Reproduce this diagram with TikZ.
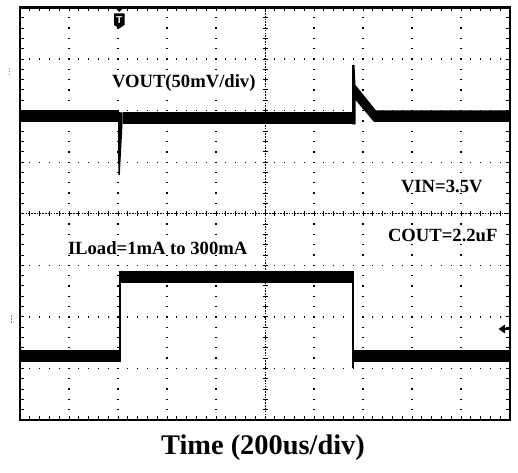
\documentclass[tikz,border=0pt]{standalone}
\usepackage{fontspec}
\setmainfont{Liberation Serif}
\usetikzlibrary{arrows,shapes}

\begin{document}
\begin{tikzpicture}[x=1bp, y=-1bp,
    every node/.style={inner sep=0pt, outer sep=0pt},
    label/.style={anchor=base west, fill=white, font=\bfseries\fontsize{18.7}{20}\selectfont},
    hdots/.style={line width=1.3bp, dash pattern=on 1.3bp off 8.5bp, dash phase=0.65bp},
    vdots/.style={line width=1.3bp, dash pattern=on 1.3bp off 9.0125bp, dash phase=0.65bp},
    hticks/.style={line width=#1, dash pattern=on 1bp off 8.8bp, dash phase=0.5bp},
    vticks/.style={line width=#1, dash pattern=on 1bp off 9.3125bp, dash phase=0.5bp},
    axis/.style={line width=0.8bp, dash pattern=on 1.6bp off 1.2bp}]
    \colorlet{trc}{black}
    \useasboundingbox (0,0) rectangle (518,473);
    % horizontal grid lines
    \draw[hdots] (20,59.06) -- (510,59.06);
    \draw[hdots] (20,110.63) -- (510,110.63);
    \draw[hdots] (20,162.19) -- (510,162.19);
    \draw[hdots] (20,265.31) -- (510,265.31);
    \draw[hdots] (20,316.88) -- (510,316.88);
    \draw[hdots] (20,368.44) -- (510,368.44);
    % vertical grid lines
    \draw[vdots] (69,7.5) -- (69,420);
    \draw[vdots] (118,7.5) -- (118,420);
    \draw[vdots] (167,7.5) -- (167,420);
    \draw[vdots] (216,7.5) -- (216,420);
    \draw[vdots] (314,7.5) -- (314,420);
    \draw[vdots] (363,7.5) -- (363,420);
    \draw[vdots] (412,7.5) -- (412,420);
    \draw[vdots] (461,7.5) -- (461,420);
    % center axes
    \draw[axis] (20,213.75) -- (510,213.75);
    \draw[hticks=5bp] (20,213.75) -- (510,213.75);
    \draw[axis] (265,7.5) -- (265,420);
    \draw[vticks=5bp] (265,7.5) -- (265,420);
    % border ticks
    \draw[hticks=4bp] (20,9.5) -- (510,9.5);
    \draw[hticks=4bp] (20,418) -- (510,418);
    \draw[vticks=4bp] (22,7.5) -- (22,420);
    \draw[vticks=4bp] (508,7.5) -- (508,420);
    % frame
    \draw[line width=2.2bp] (20,7.5) rectangle (510,420);
    % trigger marker
    \fill (115,7.5) -- (123.5,7.5) -- (119.25,12) -- cycle;
    \fill (114,13.5) -- (124.5,13.5) -- (124.5,25) -- (119.25,28.5) -- (114,25) -- cycle;
    \node[text=white, font=\sffamily\bfseries\fontsize{10}{10}\selectfont] (trig) at (119.25,20.5) {T};
    % channel markers
    \draw[gray, line width=1bp, dash pattern=on 1.5bp off 1.5bp] (9,68) -- (9,75);
    \draw[gray, line width=1bp, dash pattern=on 1.5bp off 1.5bp] (11,315) -- (11,323);
    % trigger level
    \fill (498.5,329) -- (505,324.5) -- (505,333.5) -- cycle;
    \draw[line width=2bp] (504,329) -- (510,329);
    % VOUT trace
    \fill[trc] (20,110.5) rectangle (118.5,122);
    \fill[trc] (118,112) -- (118.3,175) -- (119.8,175) -- (122.5,124.5) -- (122.5,112.5) -- cycle;
    \fill[trc] (122.5,112.5) rectangle (352,124.5);
    \fill[trc] (352,124.5) -- (352,65) -- (354.5,65) -- (355.5,85) -- (376,110.5) -- (510,110.5)
        -- (510,122) -- (374,122) -- (355.5,100) -- (355.5,124.5) -- cycle;
    % ILoad trace
    \fill[trc] (20,350) rectangle (121,361.7);
    \fill[trc] (118.5,271) rectangle (121,361.7);
    \fill[trc] (118.5,271) rectangle (353.7,283.3);
    \fill[trc] (351.5,271) rectangle (353.7,368.3);
    \fill[trc] (351.5,350) rectangle (510,361.7);
    % labels
    \node[label] (vout) at (112,88) {VOUT(50mV/div)};
    \node[label] (vin) at (401,192.5) {VIN=3.5V};
    \node[label] (cout) at (388,241.5) {COUT=2.2uF};
    \node[label] (iload) at (68,255) {ILoad=1mA to 300mA};
    % caption
    \node[anchor=base, font=\bfseries\fontsize{28.5}{30}\selectfont] (time) at (263,454) {Time (200us/div)};
\end{tikzpicture}
\end{document}
